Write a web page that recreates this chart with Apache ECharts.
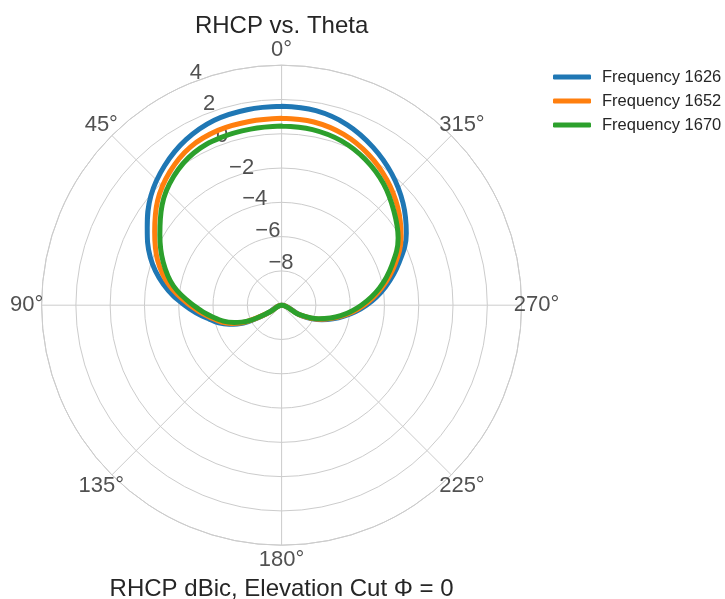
<!DOCTYPE html>
<html>
<head>
<meta charset="utf-8">
<script src="https://cdn.jsdelivr.net/npm/echarts@6/dist/echarts.min.js"></script>
<style>html,body{margin:0;padding:0;background:#fff}#chart{width:725px;height:599px}</style>
</head>
<body>
<div id="chart"></div>
<script>
// Theta (degrees, counter-clockwise from top) and RHCP gain (dBic) per frequency
var theta   = [0,10,20,30,40,50,60,70,80,90,100,110,115,120,123,180,237,242,250,260,270,280,290,300,310,320,330,340,350,360];
var f1626   = [1.60,1.58,1.48,1.15,0.62,-0.05,-0.95,-1.85,-3.00,-4.35,-5.60,-6.75,-7.55,-9.00,-10,-10,-10,-8.70,-7.50,-6.30,-5.05,-3.85,-2.70,-1.60,-0.75,0.00,0.65,1.20,1.52,1.60];
var f1652   = [0.90,0.88,0.85,0.65,0.15,-0.55,-1.45,-2.30,-3.35,-4.65,-5.80,-6.90,-7.70,-9.15,-10,-10,-10,-8.80,-7.60,-6.40,-5.20,-4.05,-2.95,-1.95,-1.15,-0.45,0.15,0.60,0.85,0.90];
var f1670   = [0.45,0.43,0.40,0.25,-0.20,-0.90,-1.80,-2.65,-3.60,-4.85,-5.95,-7.05,-7.80,-9.25,-10,-10,-10,-8.90,-7.70,-6.50,-5.35,-4.20,-3.15,-2.15,-1.45,-0.75,-0.20,0.20,0.40,0.45];
var seriesNames  = ['Frequency 1626','Frequency 1652','Frequency 1670'];
var seriesColors = ['#1f77b4','#ff7f0e','#2ca02c'];
var radialTicks  = [-8,-6,-4,-2,0,2,4];
var angleTicks   = [0,45,90,135,180,225,270,315];
var rMin = -10, rMax = 4, rStep = 2;
var rLabelAngle = 22.5;

var FONT = 'Liberation Sans, Arial, sans-serif';
var TXT = '#262626';
var GRID = '#cccccc';

function pairs(vals){ return vals.map(function(v,i){ return [v, theta[i]]; }); }
var valueSets = [f1626, f1652, f1670];

var lineSeries = valueSets.map(function(vals, i){
  return {
    type: 'line', name: seriesNames[i], coordinateSystem: 'polar', polarIndex: 0,
    data: pairs(vals), showSymbol: false, symbol: 'none', smooth: 0.4,
    lineStyle: { width: 5, color: seriesColors[i], cap: 'round', join: 'round' },
    itemStyle: { color: seriesColors[i] }, z: 3, silent: true
  };
});

var option = {
  animation: false,
  backgroundColor: '#ffffff',
  textStyle: { fontFamily: FONT },
  title: [
    { text: 'RHCP vs. Theta', left: 281.6, top: 14, padding: 0, textAlign: 'center',
      textStyle: { fontFamily: FONT, fontSize: 24, fontWeight: 'normal', color: TXT } },
    { text: 'RHCP dBic, Elevation Cut \u03a6 = 0', left: 281.6, top: 577, padding: 0, textAlign: 'center',
      textStyle: { fontFamily: FONT, fontSize: 24, fontWeight: 'normal', color: TXT } }
  ],
  legend: {
    data: seriesNames, orient: 'vertical', left: 548, top: 62,
    icon: 'roundRect', itemWidth: 38, itemHeight: 5, itemGap: 4,
    textStyle: { fontFamily: FONT, fontSize: 16.5, color: TXT, lineHeight: 20, padding: [0,0,0,6] }
  },
  polar: [
    { center: [281.6, 305.2], radius: 240 },
    { center: [281.6, 305.2], radius: 255 }
  ],
  angleAxis: [
    { polarIndex: 0, type: 'value', min: 0, max: 360, interval: 45, startAngle: 90, clockwise: false,
      axisLine: { show: true, lineStyle: { color: GRID, width: 1 } },
      axisTick: { show: false }, axisLabel: { show: false },
      splitLine: { show: true, lineStyle: { color: GRID, width: 1 } } },
    { polarIndex: 1, type: 'value', min: 0, max: 360, interval: 45, startAngle: 90, clockwise: false,
      show: false }
  ],
  radiusAxis: [
    { polarIndex: 0, type: 'value', min: rMin, max: rMax, interval: rStep,
      axisLine: { show: false }, axisTick: { show: false }, axisLabel: { show: false },
      splitLine: { show: true, lineStyle: { color: GRID, width: 1 } } },
    { polarIndex: 1, type: 'value', min: 0, max: 1, show: false }
  ],
  series: [
    { type: 'scatter', coordinateSystem: 'polar', polarIndex: 0, clip: false, silent: true, z: 1,
      symbolSize: 1, itemStyle: { color: 'rgba(0,0,0,0)' },
      data: radialTicks.map(function(v){ return [v, rLabelAngle]; }),
      label: { show: true, position: 'inside', align: 'left', verticalAlign: 'bottom',
        fontFamily: FONT, fontSize: 22, color: TXT,
        formatter: function(p){ var v = p.value[0]; return v < 0 ? '\u2212' + Math.abs(v) : String(v); } } },
    { type: 'scatter', coordinateSystem: 'polar', polarIndex: 1, clip: false, silent: true, z: 1,
      symbolSize: 1, itemStyle: { color: 'rgba(0,0,0,0)' },
      data: angleTicks.map(function(a){ return [1, a]; }),
      label: { show: true, position: 'inside', align: 'center', verticalAlign: 'middle',
        fontFamily: FONT, fontSize: 22, color: TXT,
        formatter: function(p){ return p.value[1] + '\u00b0'; } } }
  ].concat(lineSeries)
};

var chart = echarts.init(document.getElementById('chart'), null, { renderer: 'canvas' });
chart.setOption(option);
</script>
</body>
</html>
